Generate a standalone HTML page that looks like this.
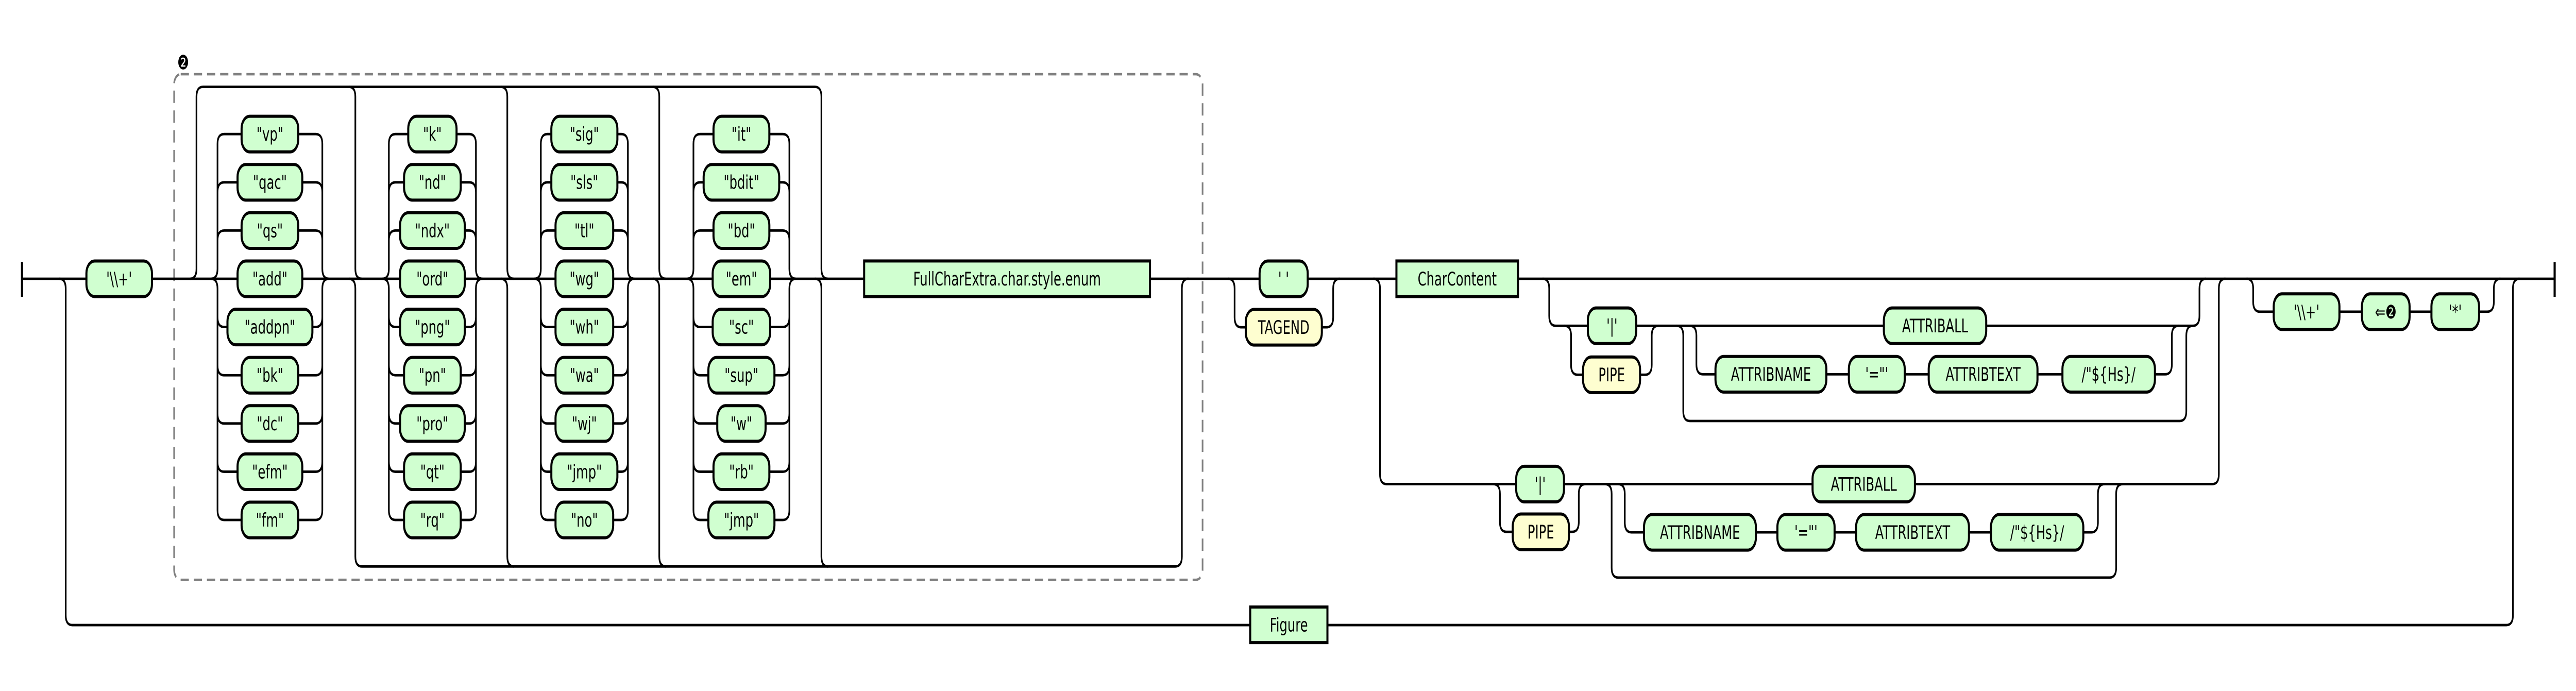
<!DOCTYPE html>
<html><head><meta charset="utf-8"><style>
html,body{margin:0;padding:0;background:#fff;width:100%;height:100%;overflow:hidden;}
svg{display:block;width:100vw;height:100vh;}
.l{fill:none;stroke:#000;stroke-width:1;}
.g{fill:#d0ffd0;stroke:#000;stroke-width:1.25;}
.y{fill:#fefed0;stroke:#000;stroke-width:1.25;}
text{font-family:"DejaVu Sans","Liberation Sans",sans-serif;font-size:7.6px;text-anchor:middle;fill:#000;}
</style></head><body>
<svg viewBox="0 0 1568 279.35" preserveAspectRatio="none" xmlns="http://www.w3.org/2000/svg">
<rect x="106" y="30" width="626" height="204.4" rx="4" fill="none" stroke="#808080" stroke-width="1" stroke-dasharray="5 3"/>
<text x="111.5" y="28" style="font-size:8px">❷</text>
<path class="l" d="M13.4 112.7H1555"/>
<path d="M13.4 106V120M1555 106V120" stroke="#000" stroke-width="1.3"/>
<path class="l" d="M36 112.7Q40 112.7 40 116.7V248.7Q40 252.7 44 252.7H1525.6Q1529.6 252.7 1529.6 248.7V116.7Q1529.6 112.7 1533.6 112.7"/>
<path class="l" d="M115.6 112.7Q119.6 112.7 119.6 108.7V39.1Q119.6 35.1 123.6 35.1H496Q500 35.1 500 39.1V108.7Q500 112.7 504 112.7"/>
<path class="l" d="M212.3 35.1Q216.3 35.1 216.3 39.1V108.7Q216.3 112.7 220.3 112.7M212.3 112.7Q216.3 112.7 216.3 116.7V225Q216.3 229 220.3 229H715.4Q719.4 229 719.4 225V116.7Q719.4 112.7 723.4 112.7"/>
<path class="l" d="M304.8 35.1Q308.8 35.1 308.8 39.1V108.7Q308.8 112.7 312.8 112.7M304.8 112.7Q308.8 112.7 308.8 116.7V225Q308.8 229 312.8 229"/>
<path class="l" d="M397.3 35.1Q401.3 35.1 401.3 39.1V108.7Q401.3 112.7 405.3 112.7M397.3 112.7Q401.3 112.7 401.3 116.7V225Q401.3 229 405.3 229"/>
<path class="l" d="M496 112.7Q500 112.7 500 116.7V225Q500 229 504 229"/>
<path class="l" d="M128.4 112.7Q132.4 112.7 132.4 108.7V58.2Q132.4 54.2 136.4 54.2H192.2Q196.2 54.2 196.2 58.2V108.7Q196.2 112.7 200.2 112.7M128.4 112.7Q132.4 112.7 132.4 116.7V206.2Q132.4 210.2 136.4 210.2H192.2Q196.2 210.2 196.2 206.2V116.7Q196.2 112.7 200.2 112.7M132.4 77.7Q132.4 73.7 136.4 73.7H192.2Q196.2 73.7 196.2 77.7M132.4 97.2Q132.4 93.2 136.4 93.2H192.2Q196.2 93.2 196.2 97.2M132.4 128.2Q132.4 132.2 136.4 132.2H192.2Q196.2 132.2 196.2 128.2M132.4 147.7Q132.4 151.7 136.4 151.7H192.2Q196.2 151.7 196.2 147.7M132.4 167.2Q132.4 171.2 136.4 171.2H192.2Q196.2 171.2 196.2 167.2M132.4 186.7Q132.4 190.7 136.4 190.7H192.2Q196.2 190.7 196.2 186.7"/>
<path class="l" d="M232.7 112.7Q236.7 112.7 236.7 108.7V58.2Q236.7 54.2 240.7 54.2H285.7Q289.7 54.2 289.7 58.2V108.7Q289.7 112.7 293.7 112.7M232.7 112.7Q236.7 112.7 236.7 116.7V206.2Q236.7 210.2 240.7 210.2H285.7Q289.7 210.2 289.7 206.2V116.7Q289.7 112.7 293.7 112.7M236.7 77.7Q236.7 73.7 240.7 73.7H285.7Q289.7 73.7 289.7 77.7M236.7 97.2Q236.7 93.2 240.7 93.2H285.7Q289.7 93.2 289.7 97.2M236.7 128.2Q236.7 132.2 240.7 132.2H285.7Q289.7 132.2 289.7 128.2M236.7 147.7Q236.7 151.7 240.7 151.7H285.7Q289.7 151.7 289.7 147.7M236.7 167.2Q236.7 171.2 240.7 171.2H285.7Q289.7 171.2 289.7 167.2M236.7 186.7Q236.7 190.7 240.7 190.7H285.7Q289.7 190.7 289.7 186.7"/>
<path class="l" d="M325.2 112.7Q329.2 112.7 329.2 108.7V58.2Q329.2 54.2 333.2 54.2H378.2Q382.2 54.2 382.2 58.2V108.7Q382.2 112.7 386.2 112.7M325.2 112.7Q329.2 112.7 329.2 116.7V206.2Q329.2 210.2 333.2 210.2H378.2Q382.2 210.2 382.2 206.2V116.7Q382.2 112.7 386.2 112.7M329.2 77.7Q329.2 73.7 333.2 73.7H378.2Q382.2 73.7 382.2 77.7M329.2 97.2Q329.2 93.2 333.2 93.2H378.2Q382.2 93.2 382.2 97.2M329.2 128.2Q329.2 132.2 333.2 132.2H378.2Q382.2 132.2 382.2 128.2M329.2 147.7Q329.2 151.7 333.2 151.7H378.2Q382.2 151.7 382.2 147.7M329.2 167.2Q329.2 171.2 333.2 171.2H378.2Q382.2 171.2 382.2 167.2M329.2 186.7Q329.2 190.7 333.2 190.7H378.2Q382.2 190.7 382.2 186.7"/>
<path class="l" d="M418.1 112.7Q422.1 112.7 422.1 108.7V58.2Q422.1 54.2 426.1 54.2H476.5Q480.5 54.2 480.5 58.2V108.7Q480.5 112.7 484.5 112.7M418.1 112.7Q422.1 112.7 422.1 116.7V206.2Q422.1 210.2 426.1 210.2H476.5Q480.5 210.2 480.5 206.2V116.7Q480.5 112.7 484.5 112.7M422.1 77.7Q422.1 73.7 426.1 73.7H476.5Q480.5 73.7 480.5 77.7M422.1 97.2Q422.1 93.2 426.1 93.2H476.5Q480.5 93.2 480.5 97.2M422.1 128.2Q422.1 132.2 426.1 132.2H476.5Q480.5 132.2 480.5 128.2M422.1 147.7Q422.1 151.7 426.1 151.7H476.5Q480.5 151.7 480.5 147.7M422.1 167.2Q422.1 171.2 426.1 171.2H476.5Q480.5 171.2 480.5 167.2M422.1 186.7Q422.1 190.7 426.1 190.7H476.5Q480.5 190.7 480.5 186.7"/>
<path class="l" d="M747.5 112.7Q751.5 112.7 751.5 116.7V128.3Q751.5 132.3 755.5 132.3H807.5Q811.5 132.3 811.5 128.3V116.7Q811.5 112.7 815.5 112.7"/>
<path class="l" d="M836 112.7Q840 112.7 840 116.7V191.7Q840 195.7 844 195.7H1346.6Q1350.6 195.7 1350.6 191.7V116.7Q1350.6 112.7 1354.6 112.7"/>
<path class="l" d="M939 112.7Q943 112.7 943 116.7V127.7Q943 131.7 947 131.7H1334.8Q1338.8 131.7 1338.8 127.7V116.7Q1338.8 112.7 1342.8 112.7"/>
<path class="l" d="M952.3 131.7Q956.3 131.7 956.3 135.7V147.5Q956.3 151.5 960.3 151.5H1001.4Q1005.4 151.5 1005.4 147.5V135.7Q1005.4 131.7 1009.4 131.7"/>
<path class="l" d="M1020.6 131.7Q1024.6 131.7 1024.6 135.7V166.2Q1024.6 170.2 1028.6 170.2H1326.8Q1330.8 170.2 1330.8 166.2V135.7Q1330.8 131.7 1334.8 131.7"/>
<path class="l" d="M1028.6 131.7Q1032.6 131.7 1032.6 135.7V147.3Q1032.6 151.3 1036.6 151.3H1318Q1322 151.3 1322 147.3V135.7Q1322 131.7 1326 131.7"/>
<path class="l" d="M909 195.7Q913 195.7 913 199.7V211Q913 215 917 215H957Q961 215 961 211V199.7Q961 195.7 965 195.7"/>
<path class="l" d="M977 195.7Q981 195.7 981 199.7V229.5Q981 233.5 985 233.5H1284.1Q1288.1 233.5 1288.1 229.5V199.7Q1288.1 195.7 1292.1 195.7"/>
<path class="l" d="M985 195.7Q989 195.7 989 199.7V211.2Q989 215.2 993 215.2H1273Q1277 215.2 1277 211.2V199.7Q1277 195.7 1281 195.7"/>
<path class="l" d="M1367.5 112.7Q1371.5 112.7 1371.5 116.7V122Q1371.5 126 1375.5 126H1514Q1518 126 1518 122V116.7Q1518 112.7 1522 112.7"/>

<rect class="g" x="52.6" y="105.5" width="39.9" height="14.4" rx="5"/><text x="72.5" y="115.4">'\\+'</text>

<rect class="g" x="147.05" y="47" width="34.5" height="14.4" rx="5"/><text x="164.3" y="56.9">"vp"</text>
<rect class="g" x="144.6" y="66.5" width="39.4" height="14.4" rx="5"/><text x="164.3" y="76.4">"qac"</text>
<rect class="g" x="147.05" y="86" width="34.5" height="14.4" rx="5"/><text x="164.3" y="95.9">"qs"</text>
<rect class="g" x="144.6" y="105.5" width="39.4" height="14.4" rx="5"/><text x="164.3" y="115.4">"add"</text>
<rect class="g" x="138.45" y="125" width="51.7" height="14.4" rx="5"/><text x="164.3" y="134.9">"addpn"</text>
<rect class="g" x="147.05" y="144.5" width="34.5" height="14.4" rx="5"/><text x="164.3" y="154.4">"bk"</text>
<rect class="g" x="147.05" y="164" width="34.5" height="14.4" rx="5"/><text x="164.3" y="173.9">"dc"</text>
<rect class="g" x="144.6" y="183.5" width="39.4" height="14.4" rx="5"/><text x="164.3" y="193.4">"efm"</text>
<rect class="g" x="147.05" y="203" width="34.5" height="14.4" rx="5"/><text x="164.3" y="212.9">"fm"</text>

<rect class="g" x="248.5" y="47" width="29.4" height="14.4" rx="5"/><text x="263.2" y="56.9">"k"</text>
<rect class="g" x="245.95" y="66.5" width="34.5" height="14.4" rx="5"/><text x="263.2" y="76.4">"nd"</text>
<rect class="g" x="243.5" y="86" width="39.4" height="14.4" rx="5"/><text x="263.2" y="95.9">"ndx"</text>
<rect class="g" x="243.5" y="105.5" width="39.4" height="14.4" rx="5"/><text x="263.2" y="115.4">"ord"</text>
<rect class="g" x="243.5" y="125" width="39.4" height="14.4" rx="5"/><text x="263.2" y="134.9">"png"</text>
<rect class="g" x="245.95" y="144.5" width="34.5" height="14.4" rx="5"/><text x="263.2" y="154.4">"pn"</text>
<rect class="g" x="243.5" y="164" width="39.4" height="14.4" rx="5"/><text x="263.2" y="173.9">"pro"</text>
<rect class="g" x="245.95" y="183.5" width="34.5" height="14.4" rx="5"/><text x="263.2" y="193.4">"qt"</text>
<rect class="g" x="245.95" y="203" width="34.5" height="14.4" rx="5"/><text x="263.2" y="212.9">"rq"</text>

<rect class="g" x="335.6" y="47" width="40.2" height="14.4" rx="5"/><text x="355.7" y="56.9">"sig"</text>
<rect class="g" x="335.6" y="66.5" width="40.2" height="14.4" rx="5"/><text x="355.7" y="76.4">"sls"</text>
<rect class="g" x="338.15" y="86" width="35.1" height="14.4" rx="5"/><text x="355.7" y="95.9">"tl"</text>
<rect class="g" x="338.15" y="105.5" width="35.1" height="14.4" rx="5"/><text x="355.7" y="115.4">"wg"</text>
<rect class="g" x="338.15" y="125" width="35.1" height="14.4" rx="5"/><text x="355.7" y="134.9">"wh"</text>
<rect class="g" x="338.15" y="144.5" width="35.1" height="14.4" rx="5"/><text x="355.7" y="154.4">"wa"</text>
<rect class="g" x="338.15" y="164" width="35.1" height="14.4" rx="5"/><text x="355.7" y="173.9">"wj"</text>
<rect class="g" x="335.6" y="183.5" width="40.2" height="14.4" rx="5"/><text x="355.7" y="193.4">"jmp"</text>
<rect class="g" x="338.15" y="203" width="35.1" height="14.4" rx="5"/><text x="355.7" y="212.9">"no"</text>

<rect class="g" x="434.3" y="47" width="34" height="14.4" rx="5"/><text x="451.3" y="56.9">"it"</text>
<rect class="g" x="428.3" y="66.5" width="46" height="14.4" rx="5"/><text x="451.3" y="76.4">"bdit"</text>
<rect class="g" x="434.3" y="86" width="34" height="14.4" rx="5"/><text x="451.3" y="95.9">"bd"</text>
<rect class="g" x="433.8" y="105.5" width="35" height="14.4" rx="5"/><text x="451.3" y="115.4">"em"</text>
<rect class="g" x="433.8" y="125" width="35" height="14.4" rx="5"/><text x="451.3" y="134.9">"sc"</text>
<rect class="g" x="431.2" y="144.5" width="40.2" height="14.4" rx="5"/><text x="451.3" y="154.4">"sup"</text>
<rect class="g" x="436.6" y="164" width="29.4" height="14.4" rx="5"/><text x="451.3" y="173.9">"w"</text>
<rect class="g" x="434.3" y="183.5" width="34" height="14.4" rx="5"/><text x="451.3" y="193.4">"rb"</text>
<rect class="g" x="431.2" y="203" width="40.2" height="14.4" rx="5"/><text x="451.3" y="212.9">"jmp"</text>

<rect class="g" x="526" y="105.5" width="174" height="14.4"/><text x="613" y="115.4">FullCharExtra.char.style.enum</text>

<rect class="g" x="766.7" y="105.5" width="29.3" height="14.4" rx="5"/><text x="781.3" y="115.4">' '</text>
<rect class="y" x="758.3" y="125.1" width="46.3" height="14.4" rx="5"/><text x="781.4" y="135">TAGEND</text>

<rect class="g" x="850" y="105.5" width="74" height="14.4"/><text x="887" y="115.4">CharContent</text>

<rect class="g" x="966.5" y="124.5" width="29.5" height="14.4" rx="5"/><text x="981.2" y="134.4">'|'</text>
<rect class="y" x="963.6" y="144.3" width="34.7" height="14.4" rx="5"/><text x="981" y="154.2">PIPE</text>
<rect class="g" x="1146.7" y="124.5" width="62.3" height="14.4" rx="5"/><text x="1177.9" y="134.4">ATTRIBALL</text>
<rect class="g" x="1044.2" y="144.1" width="67.5" height="14.4" rx="5"/><text x="1078" y="154">ATTRIBNAME</text>
<rect class="g" x="1125.4" y="144.1" width="34" height="14.4" rx="5"/><text x="1142.4" y="154">'="'</text>
<rect class="g" x="1174" y="144.1" width="66.2" height="14.4" rx="5"/><text x="1207.1" y="154">ATTRIBTEXT</text>
<rect class="g" x="1255.4" y="144.1" width="56.3" height="14.4" rx="5"/><text x="1283.5" y="154">/"${Hs}/</text>

<rect class="g" x="922.9" y="188.5" width="29.1" height="14.4" rx="5"/><text x="937.5" y="198.4">'|'</text>
<rect class="y" x="920.8" y="207.8" width="34.2" height="14.4" rx="5"/><text x="937.9" y="217.7">PIPE</text>
<rect class="g" x="1103.3" y="188.5" width="62.3" height="14.4" rx="5"/><text x="1134.5" y="198.4">ATTRIBALL</text>
<rect class="g" x="1000.7" y="208" width="68.1" height="14.4" rx="5"/><text x="1034.8" y="217.9">ATTRIBNAME</text>
<rect class="g" x="1081.9" y="208" width="34.8" height="14.4" rx="5"/><text x="1099.3" y="217.9">'="'</text>
<rect class="g" x="1129.8" y="208" width="68.7" height="14.4" rx="5"/><text x="1164.2" y="217.9">ATTRIBTEXT</text>
<rect class="g" x="1211.9" y="208" width="56.2" height="14.4" rx="5"/><text x="1240" y="217.9">/"${Hs}/</text>

<rect class="g" x="1384" y="118.8" width="40" height="14.4" rx="5"/><text x="1404" y="128.7">'\\+'</text>
<rect class="g" x="1437.7" y="118.8" width="29" height="14.4" rx="5"/><text x="1452.2" y="128.7">⇐❷</text>
<rect class="g" x="1480" y="118.8" width="29" height="14.4" rx="5"/><text x="1494.5" y="128.7">'*'</text>

<rect class="g" x="761" y="245.4" width="47" height="14.4"/><text x="784.5" y="255.3">Figure</text>
</svg>
</body></html>
